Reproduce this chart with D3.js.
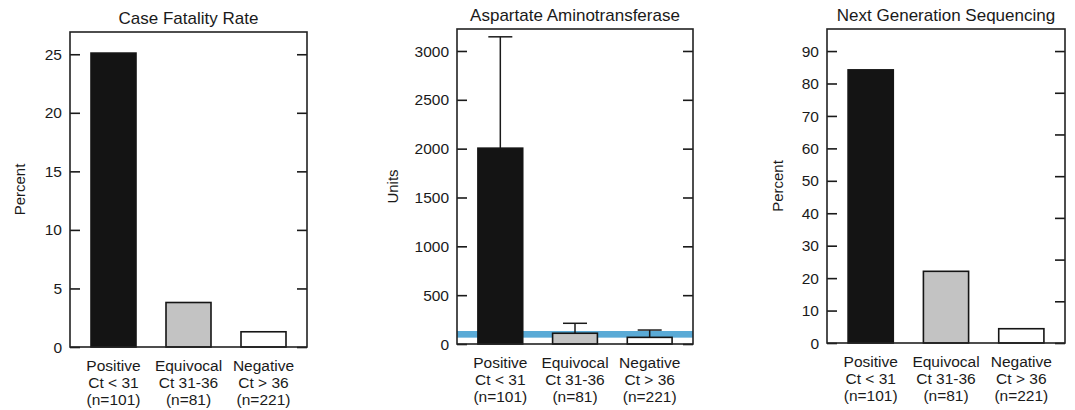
<!DOCTYPE html>
<html>
<head>
<meta charset="utf-8">
<script src="https://cdn.jsdelivr.net/npm/d3@7"></script>
<style>
  html, body { margin: 0; padding: 0; background: #fff; }
  svg text { font-family: "Liberation Sans", Arial, Helvetica, sans-serif; fill: #1a1a1a; }
</style>
</head>
<body>
<svg id="chart" width="1075" height="410"></svg>
<script>
// ---- data ----
const categories = ["Positive", "Equivocal", "Negative"];
const ctLabels = ["Ct < 31", "Ct 31-36", "Ct > 36"];
const nLabels = ["(n=101)", "(n=81)", "(n=221)"];
const barFills = ["#141414", "#c3c3c3", "#ffffff"];

const fatalityRate = [25.1, 3.8, 1.3];
const fatalityTicks = [0, 5, 10, 15, 20, 25];

const astMean = [2005, 110, 68];
const astUpper = [3145, 212, 143];
const astNormalRange = [65, 133];
const astTicks = [0, 500, 1000, 1500, 2000, 2500, 3000];

const ngsPercent = [84.2, 22.1, 4.4];
const ngsTicks = [0, 10, 20, 30, 40, 50, 60, 70, 80, 90];
const ngsRightTicks = [0, 12.86, 25.71, 38.57, 51.43, 64.29, 77.14, 90];

// ---- layout ----
const panels = [
  { title: "Case Fatality Rate", ylabel: "Percent", values: fatalityRate, upper: null, band: null,
    ticks: fatalityTicks, rightTicks: fatalityTicks, ymax: 26.9,
    x0: 70, x1: 307, y0: 32, y1: 347, ylabelX: 20, titleY: 24 },
  { title: "Aspartate Aminotransferase", ylabel: "Units", values: astMean, upper: astUpper, band: astNormalRange,
    ticks: astTicks, rightTicks: astTicks, ymax: 3225,
    x0: 457, x1: 693, y0: 29, y1: 344, ylabelX: 393, titleY: 21 },
  { title: "Next Generation Sequencing", ylabel: "Percent", values: ngsPercent, upper: null, band: null,
    ticks: ngsTicks, rightTicks: ngsRightTicks, ymax: 96.8,
    x0: 827, x1: 1065, y0: 29, y1: 343, ylabelX: 778, titleY: 21 }
];

const svg = d3.select("#chart");

panels.forEach(p => {
  const g = svg.append("g");
  const x = d3.scaleBand().domain(categories).range([p.x0, p.x1]).paddingInner(0.4).paddingOuter(0.28);
  const y = d3.scaleLinear().domain([0, p.ymax]).range([p.y1, p.y0]);

  // normal range band
  if (p.band) {
    g.append("rect")
      .attr("x", p.x0).attr("width", p.x1 - p.x0)
      .attr("y", y(p.band[1])).attr("height", y(p.band[0]) - y(p.band[1]))
      .attr("fill", "#5aaad6");
  }

  // error bars
  if (p.upper) {
    const eb = g.selectAll(".eb").data(categories).enter().append("g");
    eb.append("line")
      .attr("x1", d => x(d) + x.bandwidth() / 2).attr("x2", d => x(d) + x.bandwidth() / 2)
      .attr("y1", (d, i) => y(p.values[i])).attr("y2", (d, i) => y(p.upper[i]))
      .attr("stroke", "#1a1a1a").attr("stroke-width", 1.5);
    eb.append("line")
      .attr("x1", d => x(d) + x.bandwidth() / 2 - 12).attr("x2", d => x(d) + x.bandwidth() / 2 + 12)
      .attr("y1", (d, i) => y(p.upper[i])).attr("y2", (d, i) => y(p.upper[i]))
      .attr("stroke", "#1a1a1a").attr("stroke-width", 1.5);
  }

  // bars
  g.selectAll(".bar").data(categories).enter().append("rect")
    .attr("x", d => x(d)).attr("width", x.bandwidth())
    .attr("y", (d, i) => y(p.values[i])).attr("height", (d, i) => y(0) - y(p.values[i]))
    .attr("fill", (d, i) => barFills[i])
    .attr("stroke", "#151515").attr("stroke-width", 1.6);

  // left axis (inward ticks)
  const left = g.append("g").attr("transform", `translate(${p.x0},0)`)
    .call(d3.axisRight(y).tickValues(p.ticks).tickSize(10).tickFormat(""));
  left.select(".domain").remove();
  left.selectAll("line").attr("stroke", "#1a1a1a").attr("stroke-width", 1.6);
  g.selectAll(".tl").data(p.ticks).enter().append("text")
    .attr("x", p.x0 - 8).attr("y", d => y(d)).attr("dy", "0.36em")
    .attr("text-anchor", "end").attr("font-size", 15.5).text(d => d);

  // right axis (inward ticks)
  const right = g.append("g").attr("transform", `translate(${p.x1},0)`)
    .call(d3.axisLeft(y).tickValues(p.rightTicks).tickSize(10).tickFormat(""));
  right.select(".domain").remove();
  right.selectAll("line").attr("stroke", "#1a1a1a").attr("stroke-width", 1.6);

  // frame
  g.append("rect")
    .attr("x", p.x0).attr("y", p.y0).attr("width", p.x1 - p.x0).attr("height", p.y1 - p.y0)
    .attr("fill", "none").attr("stroke", "#222").attr("stroke-width", 1.6);

  // x labels
  const xl = g.selectAll(".xl").data(categories).enter().append("text")
    .attr("text-anchor", "middle").attr("font-size", 15.5)
    .attr("transform", d => `translate(${x(d) + x.bandwidth() / 2},${p.y1 + 24})`);
  xl.append("tspan").attr("x", 0).attr("y", 0).text(d => d);
  xl.append("tspan").attr("x", 0).attr("y", 17).text((d, i) => ctLabels[i]);
  xl.append("tspan").attr("x", 0).attr("y", 34).text((d, i) => nLabels[i]);

  // title
  g.append("text").attr("x", (p.x0 + p.x1) / 2).attr("y", p.titleY)
    .attr("text-anchor", "middle").attr("font-size", 17).text(p.title);

  // y label
  g.append("text")
    .attr("transform", `translate(${p.ylabelX},${(p.y0 + p.y1) / 2}) rotate(-90)`)
    .attr("dy", "0.35em")
    .attr("text-anchor", "middle").attr("font-size", 15).text(p.ylabel);
});
</script>
</body>
</html>
